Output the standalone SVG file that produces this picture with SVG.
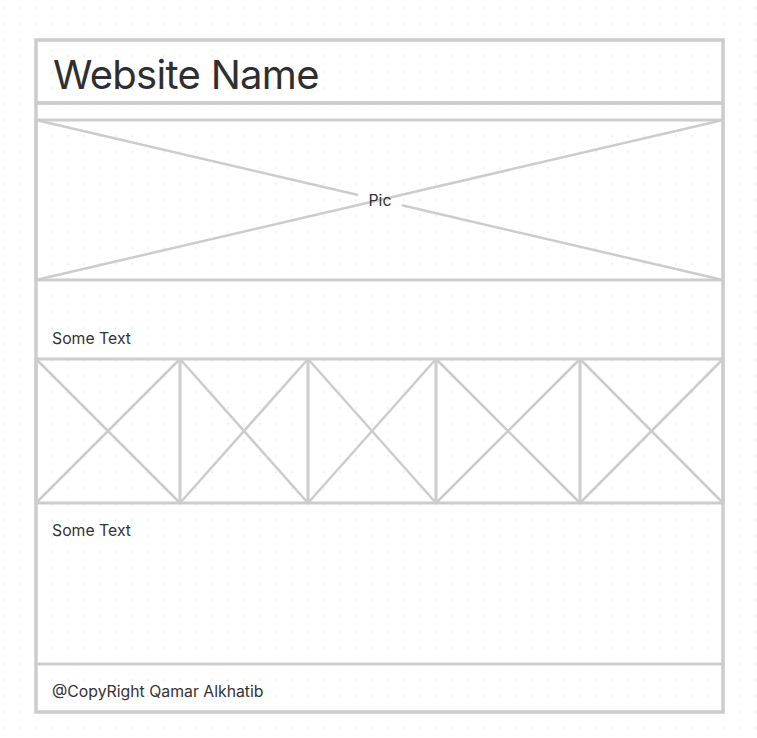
<svg xmlns="http://www.w3.org/2000/svg" width="757" height="738" viewBox="0 0 757 738">
  <style>
    .frame { fill: none; stroke: #cccccc; stroke-width: 3; }
    .line { stroke: #cccccc; stroke-width: 3; fill: none; }
    .thin { stroke: #cccccc; stroke-width: 2.5; fill: none; }
    .title { font-family: Inter, "Liberation Sans", sans-serif; font-size: 40px; font-weight: 400; letter-spacing: -0.7px; fill: #2f2f2f; }
    .label { font-family: Inter, "Liberation Sans", sans-serif; font-size: 15.8px; fill: #333333; }
  </style>
  <defs>
    <pattern id="dots" x="0" y="0" width="16" height="16" patternUnits="userSpaceOnUse">
      <rect x="3.25" y="7.25" width="1.5" height="1.5" fill="#e3e3e3"/>
    </pattern>
  </defs>

  <!-- canvas -->
  <rect width="757" height="738" fill="#ffffff"/>
  <rect width="757" height="738" fill="url(#dots)"/>

  <!-- header -->
  <g id="header">
    <rect x="36" y="40" width="687" height="63" fill="#ffffff" class="frame"/>
    <text class="title" x="53" y="89">Website Name</text>
  </g>

  <!-- page body -->
  <g id="page">
    <rect x="36" y="103" width="687" height="609" fill="#ffffff" class="frame"/>
  </g>

  <!-- hero picture -->
  <g id="hero">
    <rect x="36" y="120" width="687" height="160" class="frame"/>
    <line class="thin" x1="36" y1="120" x2="358" y2="195"/>
    <line class="thin" x1="402" y1="205.3" x2="723" y2="280"/>
    <line class="thin" x1="36" y1="280" x2="723" y2="120"/>
    <text class="label" x="380" y="206" text-anchor="middle">Pic</text>
  </g>

  <!-- first text block -->
  <g id="text1">
    <text class="label" x="52" y="344">Some Text</text>
  </g>

  <!-- thumbnail row -->
  <g id="thumbs">
    <rect x="36" y="359" width="687" height="144" class="frame"/>
    <line class="line" x1="180" y1="359" x2="180" y2="503"/>
    <line class="line" x1="308" y1="359" x2="308" y2="503"/>
    <line class="line" x1="436" y1="359" x2="436" y2="503"/>
    <line class="line" x1="580" y1="359" x2="580" y2="503"/>
    <g class="thin">
      <line x1="36" y1="359" x2="180" y2="503"/>
      <line x1="36" y1="503" x2="180" y2="359"/>
      <line x1="180" y1="359" x2="308" y2="503"/>
      <line x1="180" y1="503" x2="308" y2="359"/>
      <line x1="308" y1="359" x2="436" y2="503"/>
      <line x1="308" y1="503" x2="436" y2="359"/>
      <line x1="436" y1="359" x2="580" y2="503"/>
      <line x1="436" y1="503" x2="580" y2="359"/>
      <line x1="580" y1="359" x2="723" y2="503"/>
      <line x1="580" y1="503" x2="723" y2="359"/>
    </g>
  </g>

  <!-- second text block -->
  <g id="text2">
    <text class="label" x="52" y="536">Some Text</text>
  </g>

  <!-- footer -->
  <g id="footer">
    <line class="line" x1="36" y1="664" x2="723" y2="664"/>
    <text class="label" x="52" y="697">@CopyRight Qamar Alkhatib</text>
  </g>

  <!-- outer border redrawn on top -->
  <rect x="36" y="40" width="687" height="672" class="frame"/>
  <line class="line" x1="36" y1="103" x2="723" y2="103"/>
</svg>
